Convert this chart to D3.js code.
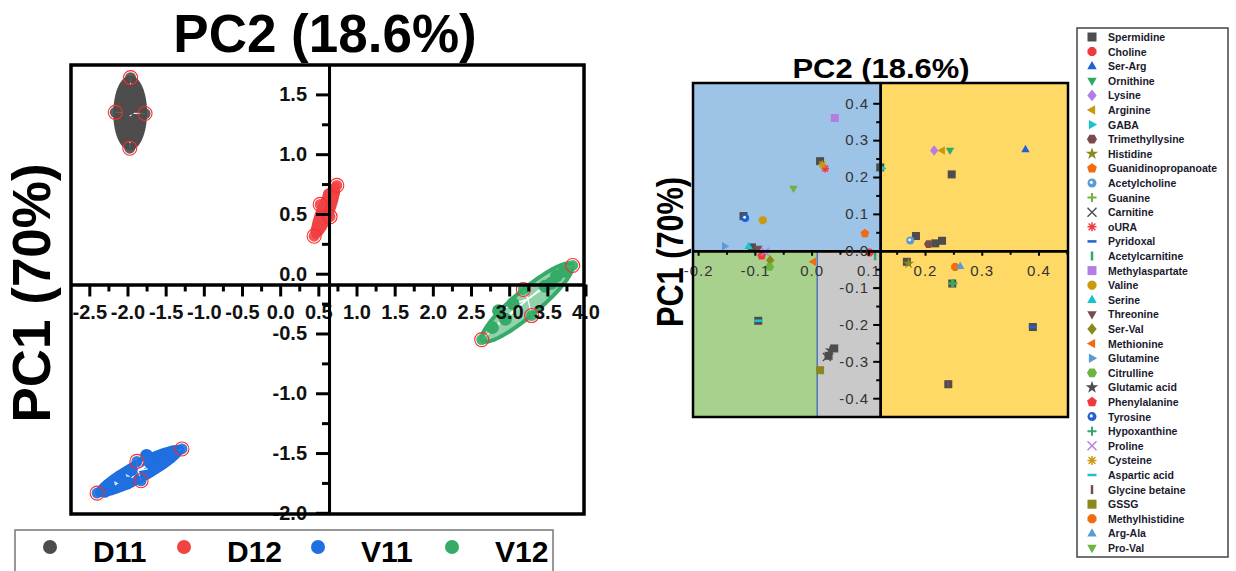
<!DOCTYPE html>
<html>
<head>
<meta charset="utf-8">
<script src="https://cdn.jsdelivr.net/npm/d3@7"></script>
<style>
  body { margin: 0; background: #fff; }
  text { font-family: "Liberation Sans", Arial, sans-serif; }
</style>
</head>
<body>
<div id="chart"></div>
<script>
// ---- score plot data (PC2 on x, PC1 on y) ----
const groups = ["D11", "D12", "V11", "V12"];
const d11X = [-1.96, -2.16, -1.77, -1.97, -1.94, -1.99, -2.00, -1.92, -1.98, -1.90, -2.05, -1.88];
const d11Y = [1.64, 1.35, 1.34, 1.05, 1.53, 1.45, 1.22, 1.15, 1.38, 1.28, 1.30, 1.42];
const d12X = [0.742, 0.524, 0.654, 0.445, 0.70, 0.66, 0.61, 0.56, 0.51, 0.48, 0.64, 0.58];
const d12Y = [0.739, 0.580, 0.477, 0.314, 0.68, 0.62, 0.56, 0.47, 0.41, 0.36, 0.66, 0.52];
const v11X = [-1.287, -1.877, -1.822, -2.398, -2.25, -2.10, -1.95, -1.70, -1.55, -1.42, -2.00, -1.65, -2.30, -1.75];
const v11Y = [-1.466, -1.570, -1.732, -1.835, -1.77, -1.70, -1.64, -1.58, -1.55, -1.50, -1.75, -1.62, -1.82, -1.52];
const v12X = [3.831, 3.185, 3.294, 2.640, 2.86, 2.95, 3.47, 3.62, 3.55, 2.78, 3.05, 3.72];
const v12Y = [0.069, -0.132, -0.350, -0.551, -0.31, -0.38, -0.105, -0.02, -0.08, -0.45, -0.25, 0.02];
// first four points of each group are the ringed ones (ellipse ends)
const scoreXTicks = [-2.5, -2.0, -1.5, -1.0, -0.5, 0.0, 0.5, 1.0, 1.5, 2.0, 2.5, 3.0, 3.5, 4.0];
const scoreYTicks = [1.5, 1.0, 0.5, 0.0, -0.5, -1.0, -1.5, -2.0];

// ---- loading plot data ----
const compounds = ["Spermidine", "Choline", "Ser-Arg", "Ornithine", "Lysine", "Arginine", "GABA",
  "Trimethyllysine", "Histidine", "Guanidinopropanoate", "Acetylcholine", "Guanine", "Carnitine",
  "oURA", "Pyridoxal", "Acetylcarnitine", "Methylaspartate", "Valine", "Serine", "Threonine",
  "Ser-Val", "Methionine", "Glutamine", "Citrulline", "Glutamic acid", "Phenylalanine", "Tyrosine",
  "Hypoxanthine", "Proline", "Cysteine", "Aspartic acid", "Glycine betaine", "GSSG",
  "Methylhistidine", "Arg-Ala", "Pro-Val"];
const pc2Load = [0.247, 0.102, 0.377, 0.244, 0.216, 0.230, 0.124, 0.206, 0.171, 0.094, 0.174, 0.248,
  0.027, 0.024, 0.390, 0.112, 0.041, -0.086, -0.111, -0.094, -0.073, 0.003, -0.153, -0.074, 0.033,
  -0.088, -0.117, 0.250, -0.082, 0.019, -0.094, 0.241, 0.015, 0.253, 0.262, -0.032];
const pc1Load = [0.207, -0.005, 0.275, 0.272, 0.272, 0.272, 0.223, 0.018, -0.035, 0.047, 0.028, -0.089,
  -0.288, 0.223, -0.207, -0.015, 0.360, 0.083, 0.012, 0.006, -0.026, -0.030, 0.012, -0.044, -0.270,
  -0.014, 0.089, -0.088, -0.003, 0.234, -0.190, -0.362, -0.324, -0.044, -0.042, 0.169];
// extra grey squares that belong to the first series
const extraX = [0.015, 0.121, -0.120, -0.105, 0.184, 0.218, 0.230, 0.168, 0.248, 0.390, 0.241, -0.094, 0.040, 0.030];
const extraY = [0.243, 0.226, 0.094, 0.009, 0.040, 0.020, 0.027, -0.030, -0.089, -0.207, -0.362, -0.190, -0.265, -0.285];
const loadXTicks = [-0.2, -0.1, 0.0, 0.1, 0.2, 0.3, 0.4];
const loadYTicks = [0.4, 0.3, 0.2, 0.1, 0.0, -0.1, -0.2, -0.3, -0.4];

// ---- styles ----
const groupColor = {D11: "#4d4d4d", D12: "#f04343", V11: "#1f6fe0", V12: "#36ab68"};
const palette = ["#4d4d4d", "#ef3a3d", "#1f62d6", "#2fa86a", "#b27ee6", "#c99a0e", "#19c3cc",
  "#7a4b4b", "#8a8a1c", "#f26b10", "#5b9bd5", "#6db33f"];
const shapes = ["square", "circle", "up", "down", "diamond", "left", "right", "hexagon", "star",
  "pentagon", "sphere", "plus", "x", "asterisk", "hbar", "vbar"];

const W = 1236, H = 571;
const svg = d3.select("#chart").append("svg")
  .attr("width", W).attr("height", H)
  .style("background", "#fff");

const fmt = v => v.toFixed(1);

// =================== score plot ===================
const sx = d3.scaleLinear().domain([-2.74, 3.98]).range([71, 584]);
const sy = d3.scaleLinear().domain([1.746, -2.01]).range([65, 514]);
const xCross = 0.64, yCross = -0.09;

const scoreData = {
  D11: d11X.map((x, i) => [x, d11Y[i]]),
  D12: d12X.map((x, i) => [x, d12Y[i]]),
  V11: v11X.map((x, i) => [x, v11Y[i]]),
  V12: v12X.map((x, i) => [x, v12Y[i]])
};

const scorePlot = svg.append("g");

groups.forEach(gname => {
  const pts = scoreData[gname].map(d => [sx(d[0]), sy(d[1])]);
  const col = groupColor[gname];
  // ellipse through the ringed points: 0 & 3 are the long ends, 1 & 2 the sides
  const c = [(pts[0][0] + pts[3][0]) / 2, (pts[0][1] + pts[3][1]) / 2];
  const u = [pts[0][0] - c[0], pts[0][1] - c[1]];
  const v = [(pts[2][0] - pts[1][0]) / 2, (pts[2][1] - pts[1][1]) / 2];
  const ring = d3.range(0, 2 * Math.PI, Math.PI / 60).map(t =>
    [c[0] + u[0] * Math.cos(t) + v[0] * Math.sin(t), c[1] + u[1] * Math.cos(t) + v[1] * Math.sin(t)]);
  scorePlot.append("path")
    .attr("d", d3.line().curve(d3.curveLinearClosed)(ring))
    .attr("fill", col)
    .attr("fill-opacity", gname === "V12" ? 0.55 : 1)
    .attr("stroke", col)
    .attr("stroke-width", 4);

  const cx = d3.mean(pts, p => p[0]), cy = d3.mean(pts, p => p[1]);
  scorePlot.selectAll(null).data(pts).enter().append("line")
    .attr("x1", cx).attr("y1", cy)
    .attr("x2", p => p[0]).attr("y2", p => p[1])
    .attr("stroke", "#fff").attr("stroke-width", 1.2);

  scorePlot.selectAll(null).data(pts.slice(4)).enter().append("circle")
    .attr("cx", p => p[0]).attr("cy", p => p[1]).attr("r", 6.5)
    .attr("fill", col);
  scorePlot.selectAll(null).data(pts.slice(0, 4)).enter().append("circle")
    .attr("cx", p => p[0]).attr("cy", p => p[1]).attr("r", 5.5)
    .attr("fill", col).attr("fill-opacity", 0.9);
  scorePlot.selectAll(null).data(pts.slice(0, 4)).enter().append("circle")
    .attr("cx", p => p[0]).attr("cy", p => p[1]).attr("r", 7)
    .attr("fill", "none").attr("stroke", "#ff2a2a").attr("stroke-width", 1.1);
});

// axes crossing inside the frame
svg.append("g")
  .attr("transform", `translate(0,${sy(yCross)})`)
  .call(d3.axisBottom(sx).tickValues(scoreXTicks).tickFormat(fmt).tickSize(12).tickPadding(8).tickSizeOuter(0));
svg.append("g")
  .attr("transform", `translate(0,${sy(yCross)})`)
  .call(d3.axisBottom(sx).tickValues(scoreXTicks.map(t => t + 0.25).filter(t => t < 3.98)).tickFormat("").tickSize(7).tickSizeOuter(0));
svg.append("g")
  .attr("transform", `translate(${sx(xCross)},0)`)
  .call(d3.axisLeft(sy).tickValues(scoreYTicks).tickFormat(fmt).tickSize(13).tickPadding(9).tickSizeOuter(0));
svg.append("g")
  .attr("transform", `translate(${sx(xCross)},0)`)
  .call(d3.axisLeft(sy).tickValues(scoreYTicks.map(t => t + 0.25).filter(t => t < 1.74)).tickFormat("").tickSize(7).tickSizeOuter(0));

svg.selectAll(".domain").attr("stroke-width", 3).attr("stroke", "#000");
svg.selectAll(".tick line").attr("stroke-width", 3).attr("stroke", "#000");
svg.selectAll(".tick text").style("font-size", "20px").style("font-weight", "bold").attr("fill", "#111");

// frame
svg.append("rect")
  .attr("x", 71).attr("y", 65).attr("width", 584 - 71).attr("height", 514 - 65)
  .attr("fill", "none").attr("stroke", "#000").attr("stroke-width", 3.5);

svg.append("text")
  .text("PC2 (18.6%)")
  .attr("x", 325).attr("y", 52)
  .attr("text-anchor", "middle")
  .style("font-size", "53px").style("font-weight", "bold");

svg.append("text")
  .text("PC1 (70%)")
  .attr("transform", "translate(50,293) rotate(-90)")
  .attr("text-anchor", "middle")
  .style("font-size", "53px").style("font-weight", "bold");

// group legend
const gLegend = svg.append("g");
gLegend.append("rect")
  .attr("x", 15).attr("y", 530).attr("width", 538).attr("height", 60)
  .attr("fill", "#fff").attr("stroke", "#777").attr("stroke-width", 1.5);
groups.forEach((gname, i) => {
  const cx = 50 + 134 * i;
  gLegend.append("circle").attr("cx", cx).attr("cy", 547).attr("r", 7).attr("fill", groupColor[gname]);
  gLegend.append("text").text(gname)
    .attr("x", cx + 43).attr("y", 562)
    .style("font-size", "30px").style("font-weight", "bold");
});

// =================== loading plot ===================
const lx = d3.scaleLinear().domain([-0.209, 0.452]).range([693, 1068]);
const ly = d3.scaleLinear().domain([0.455, -0.451]).range([83, 417]);
const lxCross = 0.121, lSplit = 0.01;

const lp = svg.append("g");
// quadrant backgrounds
lp.append("rect").attr("x", lx(-0.209)).attr("y", ly(0.455))
  .attr("width", lx(lxCross) - lx(-0.209)).attr("height", ly(0) - ly(0.455)).attr("fill", "#9dc3e6");
lp.append("rect").attr("x", lx(lxCross)).attr("y", ly(0.455))
  .attr("width", lx(0.452) - lx(lxCross)).attr("height", ly(-0.451) - ly(0.455)).attr("fill", "#ffd966");
lp.append("rect").attr("x", lx(-0.209)).attr("y", ly(0))
  .attr("width", lx(lSplit) - lx(-0.209)).attr("height", ly(-0.451) - ly(0)).attr("fill", "#a9d18e");
lp.append("rect").attr("x", lx(lSplit)).attr("y", ly(0))
  .attr("width", lx(lxCross) - lx(lSplit)).attr("height", ly(-0.451) - ly(0)).attr("fill", "#c9c9c9");
lp.append("line").attr("x1", lx(lSplit)).attr("x2", lx(lSplit)).attr("y1", ly(0)).attr("y2", ly(-0.451))
  .attr("stroke", "#4f74b8").attr("stroke-width", 1.5);

function drawMarker(g, type, color, s) {
  const tri = `M0,${-s * 1.15}L${s * 1.05},${s * 0.7}L${-s * 1.05},${s * 0.7}Z`;
  const poly = (n, r, rot) => "M" + d3.range(n).map(i => {
    const a = rot + i * 2 * Math.PI / n;
    return [r * Math.cos(a), r * Math.sin(a)].join(",");
  }).join("L") + "Z";
  switch (type) {
    case "square":
      g.append("rect").attr("x", -s).attr("y", -s).attr("width", 2 * s).attr("height", 2 * s).attr("fill", color); break;
    case "circle":
      g.append("path").attr("d", poly(8, s * 1.08, Math.PI / 8)).attr("fill", color); break;
    case "up":
      g.append("path").attr("d", tri).attr("fill", color); break;
    case "down":
      g.append("path").attr("d", tri).attr("transform", "rotate(180)").attr("fill", color); break;
    case "left":
      g.append("path").attr("d", tri).attr("transform", "rotate(-90)").attr("fill", color); break;
    case "right":
      g.append("path").attr("d", tri).attr("transform", "rotate(90)").attr("fill", color); break;
    case "diamond":
      g.append("path").attr("d", `M0,${-s * 1.3}L${s * 1.05},0L0,${s * 1.3}L${-s * 1.05},0Z`).attr("fill", color); break;
    case "hexagon":
      g.append("path").attr("d", poly(6, s * 1.12, 0)).attr("fill", color); break;
    case "star":
      g.append("path").attr("d", d3.symbol(d3.symbolStar, s * s * 2.4)()).attr("fill", color); break;
    case "pentagon":
      g.append("path").attr("d", poly(5, s * 1.15, -Math.PI / 2)).attr("fill", color); break;
    case "sphere":
      g.append("circle").attr("r", s).attr("fill", color);
      g.append("circle").attr("r", s * 0.35).attr("cx", -s * 0.15).attr("cy", -s * 0.15).attr("fill", "#fff"); break;
    case "plus":
      g.append("path").attr("d", `M${-s},0H${s}M0,${-s}V${s}`).attr("stroke", color).attr("stroke-width", 2); break;
    case "x":
      g.append("path").attr("d", `M${-s},${-s}L${s},${s}M${-s},${s}L${s},${-s}`).attr("stroke", color).attr("stroke-width", 1.4); break;
    case "asterisk":
      g.append("path").attr("d", `M${-s},0H${s}M0,${-s}V${s}M${-s * 0.75},${-s * 0.75}L${s * 0.75},${s * 0.75}M${-s * 0.75},${s * 0.75}L${s * 0.75},${-s * 0.75}`)
        .attr("stroke", color).attr("stroke-width", 1.5); break;
    case "hbar":
      g.append("path").attr("d", `M${-s},0H${s}`).attr("stroke", color).attr("stroke-width", 2.5); break;
    case "vbar":
      g.append("path").attr("d", `M0,${-s}V${s}`).attr("stroke", color).attr("stroke-width", 2.5); break;
  }
}

// grey squares of the first series
extraX.forEach((x, i) => {
  drawMarker(lp.append("g").attr("transform", `translate(${lx(x)},${ly(extraY[i])})`), "square", palette[0], 4);
});
compounds.forEach((name, i) => {
  const g = lp.append("g").attr("transform", `translate(${lx(pc2Load[i])},${ly(pc1Load[i])})`);
  drawMarker(g, shapes[i % shapes.length], palette[i % palette.length], 4);
});

// loading axes
const laxStyle = sel => {
  sel.selectAll(".domain").attr("stroke", "#000").attr("stroke-width", 2.5);
  sel.selectAll(".tick line").attr("stroke", "#000").attr("stroke-width", 2);
  sel.selectAll(".tick text").style("font-size", "15px").attr("fill", "#333").style("letter-spacing", "1px");
};
svg.append("g")
  .attr("transform", `translate(0,${ly(0)})`)
  .call(d3.axisBottom(lx).tickValues(loadXTicks).tickFormat(fmt).tickSize(5).tickPadding(10).tickSizeOuter(0))
  .call(laxStyle);
svg.append("g")
  .attr("transform", `translate(0,${ly(0)})`)
  .call(d3.axisBottom(lx).tickValues(loadXTicks.map(t => t + 0.05)).tickFormat("").tickSize(4).tickSizeOuter(0))
  .call(laxStyle);
svg.append("g")
  .attr("transform", `translate(${lx(lxCross)},0)`)
  .call(d3.axisLeft(ly).tickValues(loadYTicks).tickFormat(fmt).tickSize(7).tickPadding(4).tickSizeOuter(0))
  .call(laxStyle);
svg.append("g")
  .attr("transform", `translate(${lx(lxCross)},0)`)
  .call(d3.axisLeft(ly).tickValues(loadYTicks.map(t => t - 0.05).filter(t => t > -0.45)).tickFormat("").tickSize(4).tickSizeOuter(0))
  .call(laxStyle);

svg.append("rect")
  .attr("x", 693).attr("y", 83).attr("width", 1068 - 693).attr("height", 417 - 83)
  .attr("fill", "none").attr("stroke", "#000").attr("stroke-width", 2.5);

svg.append("text")
  .text("PC2 (18.6%)")
  .attr("x", 881).attr("y", 78)
  .attr("text-anchor", "middle")
  .attr("textLength", 177).attr("lengthAdjust", "spacingAndGlyphs")
  .style("font-size", "27px").style("font-weight", "bold");

svg.append("text")
  .text("PC1 (70%)")
  .attr("transform", "translate(683,252) rotate(-90)")
  .attr("text-anchor", "middle")
  .attr("textLength", 150).attr("lengthAdjust", "spacingAndGlyphs")
  .style("font-size", "36px").style("font-weight", "bold");

// compound legend
const cLegend = svg.append("g");
cLegend.append("rect")
  .attr("x", 1077).attr("y", 28).attr("width", 151).attr("height", 529)
  .attr("fill", "#fff").attr("stroke", "#444").attr("stroke-width", 1.5);
compounds.forEach((name, i) => {
  const yy = 37 + 14.6 * i;
  drawMarker(cLegend.append("g").attr("transform", `translate(1092,${yy})`),
    shapes[i % shapes.length], palette[i % palette.length], 4.5);
  cLegend.append("text").text(name)
    .attr("x", 1108).attr("y", yy + 4)
    .style("font-size", "10.5px").style("font-weight", "bold").attr("fill", "#1a1a2e");
});
</script>
</body>
</html>
